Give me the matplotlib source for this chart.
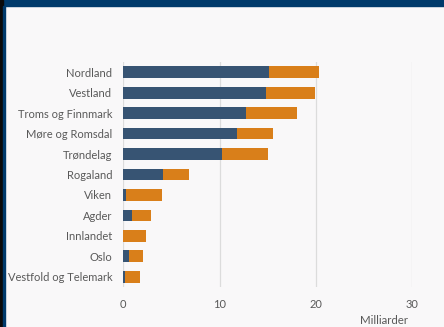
import numpy as np
import matplotlib.pyplot as plt
from matplotlib.patches import Rectangle

# fylker, ovenfra og ned
regions = ['Nordland', 'Vestland', 'Troms og Finnmark', 'Møre og Romsdal', 'Trøndelag',
           'Rogaland', 'Viken', 'Agder', 'Innlandet', 'Oslo', 'Vestfold og Telemark']
dark_vals = [15.1, 14.8, 12.8, 11.8, 10.3, 4.1, 0.28, 0.9, 0.0, 0.62, 0.14]
orange_vals = [5.25, 5.17, 5.24, 3.75, 4.73, 2.7, 3.77, 1.98, 2.36, 1.43, 1.59]
xticks = [0, 10, 20, 30]

dark_col = '#375473'
orange_col = '#d97f1a'
bg = '#f9f8f9'
txt = '#595959'

plt.rcParams['font.family'] = ['Lato', 'DejaVu Sans']

fig = plt.figure(figsize=(4.44, 3.27), dpi=100)
fig.patch.set_facecolor(bg)

# ramme: blå stripe øverst, mørk kant til venstre
fig.add_artist(Rectangle((0, 1 - 6 / 327), 1, 6 / 327, transform=fig.transFigure,
                         color='#003a6b', zorder=5))
fig.add_artist(Rectangle((0, 0), 3 / 444, 1, transform=fig.transFigure,
                         color='#0a0a0a', zorder=6))
fig.add_artist(Rectangle((3 / 444, 0), 2 / 444, 1 - 6 / 327, transform=fig.transFigure,
                         color='#003a6b', zorder=6))

ax = fig.add_axes([123.3 / 444, 1 - 287 / 327, (412 - 123.3) / 444, 225 / 327])
ax.set_facecolor(bg)

y = np.arange(len(regions))
ax.barh(y, dark_vals, height=0.57, color=dark_col, zorder=3)
ax.barh(y, orange_vals, left=dark_vals, height=0.57, color=orange_col, zorder=3)

ax.set_ylim(len(regions) - 0.5, -0.5)
ax.set_xlim(0, 30)
ax.set_xticks(xticks)
ax.set_yticks(y)
ax.set_yticklabels(regions)
ax.grid(axis='x', color='#dcdcdc', linewidth=0.9, zorder=0)
for s in ax.spines.values():
    s.set_visible(False)
ax.tick_params(length=0, labelsize=8, colors=txt)
ax.tick_params(axis='y', pad=8)
ax.tick_params(axis='x', pad=9)

fig.text(384 / 444, 1 - 321 / 327, 'Milliarder', ha='center', va='center',
         fontsize=8.3, color=txt)

fig.savefig('out.png', dpi=100, facecolor=bg)
